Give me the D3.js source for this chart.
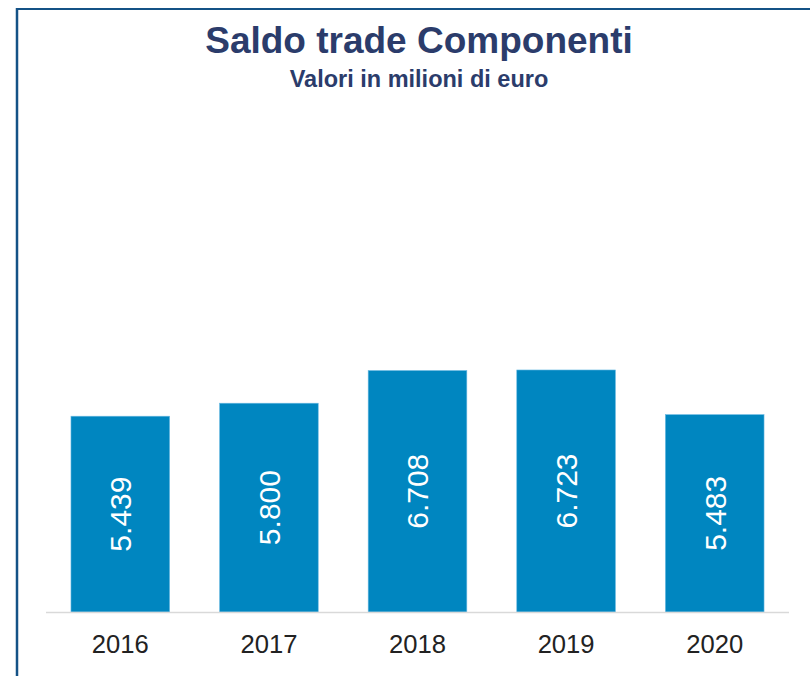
<!DOCTYPE html>
<html>
<head>
<meta charset="utf-8">
<script src="https://cdn.jsdelivr.net/npm/d3@7"></script>
<style>
  html, body { margin: 0; padding: 0; background: #ffffff; }
  svg { display: block; }
</style>
</head>
<body>
<svg id="chart" width="810" height="676"></svg>
<script>
const categories = ["2016", "2017", "2018", "2019", "2020"];
const values = [5439, 5800, 6708, 6723, 5483];
const titleText = "Saldo trade Componenti";
const subtitleText = "Valori in milioni di euro";

const W = 810, H = 676;
const svg = d3.select("#chart");

svg.append("rect").attr("width", W).attr("height", H).attr("fill", "#ffffff");

// frame lines (top and left)
svg.append("line").attr("x1", 16).attr("x2", W).attr("y1", 9).attr("y2", 9)
  .attr("stroke", "#145286").attr("stroke-width", 2.2);
svg.append("line").attr("x1", 17).attr("x2", 17).attr("y1", 8).attr("y2", H)
  .attr("stroke", "#145286").attr("stroke-width", 2.5);

const x = d3.scaleBand().domain(categories).range([46, 789])
  .paddingInner(0.336).paddingOuter(0.168);
const y = d3.scaleLinear().domain([0, 12000]).range([612, 180]);

const it = d3.formatLocale({decimal: ",", thousands: ".", grouping: [3], currency: ["", "€"]});
const fmt = it.format(",d");

// title
svg.append("text").attr("x", 419).attr("y", 53).attr("text-anchor", "middle")
  .attr("font-family", "Liberation Sans, Arial, sans-serif").attr("font-weight", "bold")
  .attr("font-size", 37).attr("fill", "#2B3C6B").text(titleText);
svg.append("text").attr("x", 419).attr("y", 87).attr("text-anchor", "middle")
  .attr("font-family", "Liberation Sans, Arial, sans-serif").attr("font-weight", "bold")
  .attr("font-size", 23.5).attr("fill", "#2B3C6B").text(subtitleText);

const data = categories.map((c, i) => ({c, v: values[i]}));

// bars
svg.append("g").selectAll("rect").data(data).join("rect")
  .attr("x", d => x(d.c)).attr("width", x.bandwidth())
  .attr("y", d => y(d.v)).attr("height", d => y(0) - y(d.v))
  .attr("fill", "#0086C0").attr("stroke", "#6dbbe3").attr("stroke-width", 0.6);

// baseline
svg.append("line").attr("x1", 46).attr("x2", 789).attr("y1", y(0) + 0.5).attr("y2", y(0) + 0.5)
  .attr("stroke", "#d9d9d9").attr("stroke-width", 1.6);

// value labels rotated
svg.append("g").selectAll("text").data(data).join("text")
  .attr("transform", d => `translate(${x(d.c) + x.bandwidth() / 2},${(y(d.v) + y(0)) / 2}) rotate(-90)`)
  .attr("text-anchor", "middle").attr("dy", "0.36em")
  .attr("font-family", "Liberation Sans, Arial, sans-serif").attr("font-size", 30)
  .attr("fill", "#ffffff").text(d => fmt(d.v));

// x axis labels
const xAxis = d3.axisBottom(x).tickSize(0).tickPadding(0);
const gx = svg.append("g").attr("transform", `translate(0,${y(0)})`).call(xAxis);
gx.select(".domain").remove();
gx.selectAll("text").attr("font-family", "Liberation Sans, Arial, sans-serif")
  .attr("font-size", 25.6).attr("fill", "#222222").attr("dy", null).attr("y", 41);
</script>
</body>
</html>
